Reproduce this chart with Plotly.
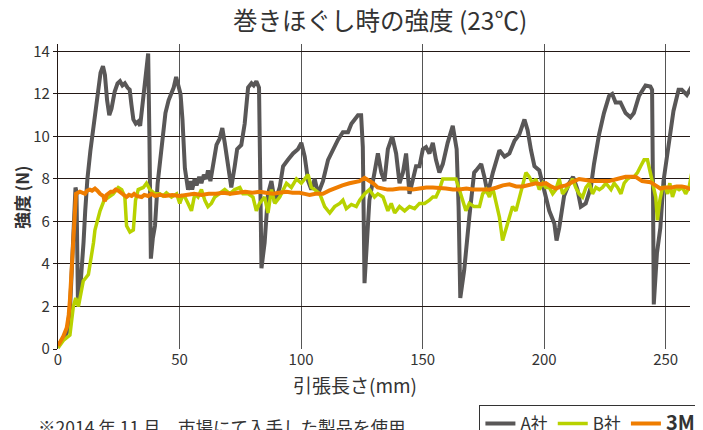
import plotly.graph_objects as go

# ---- data ----
a_x = [0, 2, 3.8, 5, 6.2, 7.2, 7.6, 8.2, 9, 9.7, 10.5, 11.2, 12.1, 13.3, 14.5, 15.5, 16.5, 17.5, 18.5, 19.3,
       20.2, 21.1, 22, 23.3, 24.5, 25.5, 26.5, 27.5, 28.6, 29.5, 30.2, 31, 32, 33, 33.8, 34.8, 35.8, 36.6, 37.1, 37.6,
       38.2, 39, 39.9, 41, 41.9, 43, 44.2, 45.5, 46.7, 47.6, 48.6, 49.4, 50.4, 51.2, 52.2, 53.5, 54.5, 55.2, 56.2, 57,
       58.1, 59, 60, 61, 61.7, 62.7, 63.8, 65.2, 66.5, 67.6, 68.6, 69.9, 71.3, 72.7, 73.7, 75.4, 76.8, 78.2, 79.6, 80.5,
       81.6, 82.7, 83.2, 83.7, 85, 86.4, 87.8, 89.2, 91.2, 92.6, 94.6, 96.7, 98.7, 100.1, 101.5, 102.9, 104.2, 105.6, 107, 109,
       111.1, 113.2, 115.2, 117.2, 119.3, 120.7, 122, 123.4, 124.7, 125.4, 126.1, 127, 128.1, 130.2, 131.6, 133, 134.3, 135.7, 137.5, 139.1,
       140.5, 141.9, 143.2, 144.6, 146, 147.3, 148.7, 150.1, 151.4, 152.8, 154.2, 155.5, 156.9, 158.3, 160.3, 162.4, 164, 164.8, 165.5, 167.1,
       169.2, 171.2, 172, 174.1, 175.4, 176.8, 178.9, 181.6, 183.7, 185.7, 187.8, 189.8, 191.9, 193.2, 194.6, 196, 198, 200.1, 202.1, 204.2,
       205.1, 206.2, 208.2, 210.3, 211.9, 213.7, 215.1, 217.1, 219.2, 220.5, 222.6, 224.6, 226.7, 228, 229.4, 231.4, 233.5, 235.5, 236.9, 239,
       241.7, 243.7, 244.4, 244.8, 245.1, 246.4, 247.8, 249.1, 251.2, 253.2, 255.3, 256.6, 258.7, 260.7]
a_y = [0.15, 0.5, 0.8, 2.0, 5.5, 7.6, 7.4, 2.3, 2.6, 3.5, 5.0, 6.5, 8.0, 9.3, 10.3, 11.3, 12.3, 13.0, 13.3, 12.9,
       11.7, 11.0, 11.3, 12.1, 12.5, 12.6, 12.4, 12.5, 12.3, 12.2, 11.5, 10.8, 10.6, 10.7, 10.5, 11.5, 12.8, 13.5, 13.9, 10.0,
       4.25, 5.2, 5.8, 7.8, 8.8, 10.0, 11.1, 11.7, 12.0, 12.3, 12.8, 12.4, 12.0, 10.8, 8.5, 7.5, 7.9, 7.5, 8.0, 7.7,
       8.1, 7.8, 8.2, 8.0, 8.4, 7.9, 8.7, 9.6, 9.9, 10.4, 9.7, 8.6, 7.6, 8.6, 9.4, 9.6, 10.6, 12.3, 12.5, 12.4,
       12.6, 12.3, 8.5, 3.8, 5.0, 7.3, 7.9, 6.9, 7.6, 8.6, 8.9, 9.2, 9.4, 9.7, 9.05, 7.9, 7.5, 8.0, 7.3, 7.9,
       8.9, 9.4, 9.85, 10.2, 10.2, 10.6, 10.8, 11.0, 11.0, 9.5, 3.1, 5.0, 7.0, 8.3, 9.2, 8.3, 7.9, 9.4, 10.0, 9.2,
       7.8, 8.3, 9.2, 7.3, 8.0, 8.6, 8.6, 9.4, 9.5, 9.2, 9.7, 8.9, 8.3, 8.7, 9.7, 10.5, 9.4, 6.7, 2.4, 3.7,
       6.2, 8.3, 8.4, 8.7, 8.1, 7.3, 8.3, 9.35, 9.05, 9.2, 9.8, 10.1, 10.8, 10.3, 9.35, 8.6, 8.4, 7.5, 6.5, 5.9,
       5.1, 5.7, 7.2, 7.8, 8.1, 7.5, 6.7, 6.85, 7.6, 8.7, 10.1, 11.1, 11.9, 12.0, 11.6, 11.6, 11.1, 10.9, 11.1, 11.9,
       12.4, 12.35, 12.2, 7.15, 2.1, 4.5, 5.7, 7.9, 9.7, 11.2, 12.2, 12.2, 11.95, 12.35]

b_x = [0, 2.2, 4.9, 5.6, 6.3, 7.3, 8.4, 9.4, 10.4, 12.5, 13.8, 14.6, 15.2, 16.2, 17.3, 19, 20.7, 22.7, 24.8, 26.2,
       27.5, 28.2, 29.6, 31, 31.9, 33, 35.1, 36.4, 37.8, 39.9, 41.9, 43.2, 44.6, 46.7, 48.8, 50.1, 51.2, 52.2, 53.5, 54.9,
       56.3, 57.6, 59, 60.4, 61.7, 63.1, 64.5, 66.5, 68.6, 70.7, 72.7, 74.8, 76.1, 78.2, 80.2, 81.6, 82.9, 85, 86.4, 87.8,
       89.2, 91.2, 92.6, 94, 96, 98.1, 100.1, 101.5, 102.9, 104.2, 105.6, 107.7, 109.7, 111.8, 113.8, 115.9, 117.2, 118.6, 120.7, 122.7,
       124.1, 126.1, 128.1, 130.2, 131.6, 133.7, 135.7, 137.1, 138.5, 140.5, 142.6, 144.6, 146.7, 148.7, 150.8, 152.8, 154.2, 155.5, 156.9, 158.3,
       160.3, 162.4, 163.7, 165.1, 166.5, 167.8, 169.2, 171.2, 173.4, 174.7, 176.1, 177.5, 178.8, 180.2, 181.6, 182.9, 184.3, 185.7, 187, 188.4,
       189.8, 191.1, 192.5, 193.9, 195.2, 196.6, 198, 199.4, 200.7, 202.1, 203.5, 204.8, 206.2, 207.6, 209.6, 211.7, 213, 214.4, 215.8, 217.2,
       218.6, 219.9, 221.3, 222.7, 224, 225.4, 227.5, 228.8, 230.2, 231.6, 232.9, 234.3, 235.6, 237, 238.4, 239.7, 241.1, 242.5, 243.5, 244.5,
       245.9, 246.6, 247.6, 248.7, 249.8, 250.8, 251.7, 252.8, 254.1, 255.5, 256.9, 258.2, 259.6, 260.9]
b_y = [0.05, 0.4, 0.65, 1.3, 2.0, 2.4, 2.0, 2.6, 3.2, 3.5, 4.3, 5.0, 5.6, 6.1, 6.5, 7.0, 7.15, 7.3, 7.6, 7.5,
       7.15, 5.8, 5.5, 5.6, 7.0, 7.5, 7.6, 7.8, 7.5, 7.3, 7.3, 7.2, 7.35, 7.15, 7.3, 6.85, 7.2, 7.15, 6.85, 6.5,
       7.3, 7.15, 7.5, 7.0, 6.7, 6.85, 7.15, 7.3, 7.5, 7.3, 7.5, 7.6, 7.3, 7.3, 7.15, 6.5, 6.85, 7.15, 6.4, 7.5,
       6.85, 7.15, 7.5, 7.8, 7.6, 8.0, 7.8, 8.0, 8.2, 7.6, 7.5, 7.3, 6.7, 6.4, 6.7, 6.85, 7.0, 6.6, 6.8, 6.7,
       7.0, 7.3, 7.5, 7.15, 7.3, 7.15, 6.5, 6.85, 6.4, 6.7, 6.5, 6.7, 6.6, 6.85, 6.85, 7.0, 7.15, 7.15, 7.5, 8.0,
       8.0, 8.0, 8.0, 7.5, 7.0, 6.5, 6.85, 6.7, 6.7, 7.3, 7.5, 7.15, 7.6, 6.85, 6.2, 5.1, 5.7, 6.2, 6.7, 6.5,
       7.15, 7.8, 8.3, 8.1, 7.8, 8.0, 7.5, 7.8, 7.6, 7.6, 7.3, 7.5, 8.0, 7.3, 7.6, 8.0, 7.6, 7.3, 7.15, 7.6,
       7.8, 7.3, 7.6, 7.5, 7.6, 7.8, 7.5, 7.8, 7.6, 7.3, 7.8, 8.0, 8.1, 8.1, 8.3, 8.6, 8.9, 8.9, 8.4, 8.0,
       7.15, 6.05, 7.0, 7.6, 7.6, 7.3, 7.8, 7.15, 7.6, 7.5, 7.6, 7.3, 7.6, 8.4]

m_x = [0, 2.2, 3.6, 4.4, 4.9, 5.4, 5.9, 6.3, 6.7, 7.1, 7.4, 9, 10, 11.1, 12, 13.1, 14, 15.2, 16.2, 17.3,
       18.6, 19.3, 20, 20.7, 21.7, 22.7, 23.7, 24.8, 25.8, 26.8, 28.2, 29.2, 30.3, 31.3, 32.3, 34.4, 35.5, 37.1, 38.5, 39.9,
       42, 44, 47, 50, 53, 56, 59, 62, 65, 68, 71, 74, 77, 80, 83, 85.5, 88.5, 91, 94, 96.5,
       99.4, 101.5, 103.5, 106, 109, 111.5, 114.4, 117, 119.9, 122, 124, 126.1, 127.5, 129.6, 131.5, 133.6, 135.6, 137.7, 140.5, 143.2,
       146, 148.7, 151.5, 154.2, 157, 159.6, 162.5, 165.1, 168, 170.6, 174, 177.5, 180.5, 183, 185.7, 188.5, 191.2, 193.8, 196.6, 198.6,
       200.7, 202.8, 204.8, 207, 209, 211.5, 214.4, 217, 219.9, 223, 226.7, 230, 233.5, 235.5, 237.6, 240.3, 243.7, 245.8, 247.8, 250,
       252.6, 254.5, 256.6, 258.5, 260.7]
m_y = [0.15, 0.6, 1.0, 1.6, 2.3, 3.4, 4.5, 5.5, 6.4, 7.0, 7.3, 7.4, 7.35, 7.3, 7.45, 7.5, 7.45, 7.55, 7.45, 7.3,
       7.2, 6.95, 7.25, 7.3, 7.4, 7.4, 7.5, 7.45, 7.35, 7.3, 7.15, 7.25, 7.2, 7.3, 7.2, 7.15, 7.25, 7.2, 7.3, 7.2,
       7.25, 7.2, 7.25, 7.2, 7.25, 7.3, 7.25, 7.3, 7.3, 7.35, 7.3, 7.35, 7.4, 7.35, 7.4, 7.35, 7.3, 7.35, 7.4, 7.35,
       7.35, 7.3, 7.25, 7.3, 7.3, 7.45, 7.6, 7.7, 7.8, 7.85, 7.9, 8.05, 7.95, 7.8, 7.6, 7.55, 7.5, 7.5, 7.55, 7.55,
       7.5, 7.55, 7.6, 7.6, 7.55, 7.55, 7.5, 7.5, 7.55, 7.5, 7.5, 7.5, 7.6, 7.7, 7.75, 7.65, 7.65, 7.7, 7.8, 7.75,
       7.8, 7.65, 7.55, 7.65, 7.7, 7.85, 8.0, 7.95, 7.9, 7.9, 7.9, 8.0, 8.1, 8.1, 8.1, 7.9, 7.85, 7.7, 7.55, 7.6,
       7.6, 7.65, 7.65, 7.6, 7.5]

x_ticks = [0, 50, 100, 150, 200, 250]
y_ticks = [0, 2, 4, 6, 8, 10, 12, 14]

FONT = "Noto Sans CJK JP"
TXT = "#333333"

fig = go.Figure()
fig.add_trace(go.Scatter(x=a_x, y=a_y, mode="lines", name="A社",
                         line=dict(color="#595757", width=4)))
fig.add_trace(go.Scatter(x=b_x, y=b_y, mode="lines", name="B社",
                         line=dict(color="#b8d200", width=3.5)))
fig.add_trace(go.Scatter(x=m_x, y=m_y, mode="lines",
                         name="<span style='font-size:20px'><b>3M</b></span>",
                         line=dict(color="#ef7d00", width=4)))

# page body has an 8px default margin, so the figure is drawn 8px smaller
fig.update_layout(
    width=695, height=422,
    margin=dict(l=50, r=13, t=36, b=81, autoexpand=False),
    paper_bgcolor="white", plot_bgcolor="white",
    font=dict(family=FONT, color=TXT, size=15),
    showlegend=True,
    legend=dict(orientation="h", x=0.666, y=-0.182, xanchor="left", yanchor="top",
                bordercolor="#333333", borderwidth=1.5, font=dict(size=17, color=TXT),
                itemwidth=30, traceorder="normal"),
    xaxis=dict(range=[0, 260], tickvals=x_ticks, showgrid=True, gridcolor="#555555", gridwidth=1.3,
               zeroline=False, showline=False, ticks="", automargin=False,
               tickfont=dict(size=15, color=TXT)),
    yaxis=dict(range=[0, 14.35], tickvals=y_ticks, showgrid=True, gridcolor="#231815", gridwidth=1.2,
               zeroline=False, showline=True, linecolor="#231815", linewidth=1.3, automargin=False,
               ticks="outside", ticklen=4, tickcolor="#231815", tickfont=dict(size=15, color=TXT)),
    annotations=[
        dict(text="巻きほぐし時の強度 (23℃)", x=0.5095, y=1.079, xref="paper", yref="paper",
             xanchor="center", yanchor="middle", showarrow=False, font=dict(size=24.5, color=TXT)),
        dict(text="<b>強度 (N)</b>", x=-0.0585, y=0.495, xref="paper", yref="paper", textangle=-90,
             xanchor="center", yanchor="middle", showarrow=False, font=dict(size=17, color=TXT)),
        dict(text="引張長さ(mm)", x=0.47, y=-0.118, xref="paper", yref="paper",
             xanchor="center", yanchor="middle", showarrow=False, font=dict(size=19, color=TXT)),
        dict(text="※2014 年 11 月、市場にて入手した製品を使用", x=-0.035, y=-0.207, xref="paper", yref="paper",
             xanchor="left", yanchor="top", showarrow=False, font=dict(size=17.5, color=TXT)),
    ],
)

fig.write_html("out.html")
